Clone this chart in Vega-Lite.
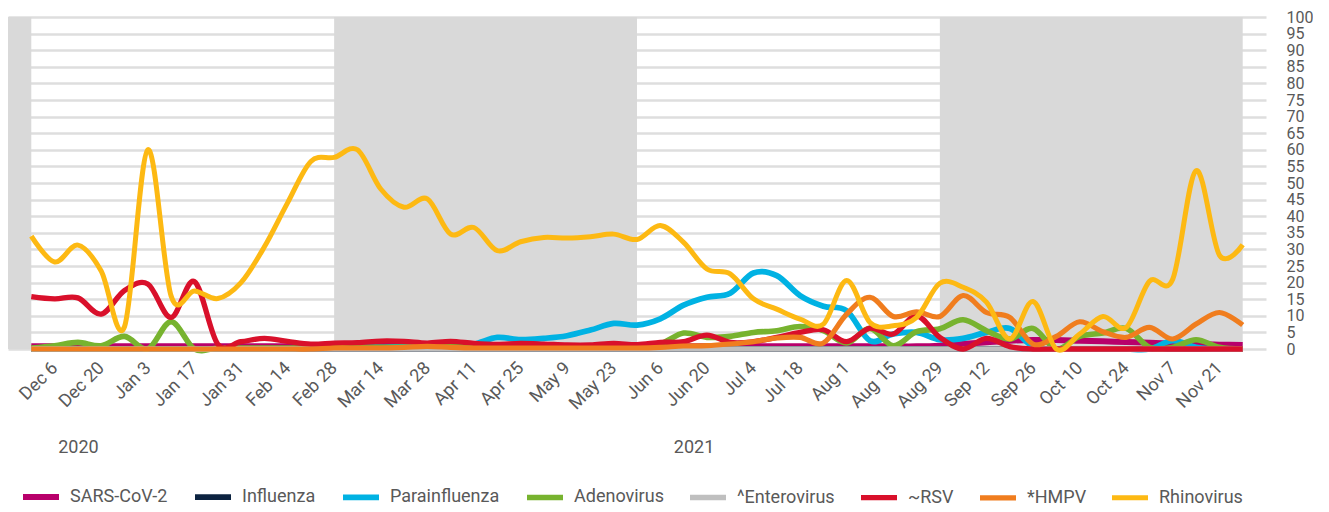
{
  "$schema": "https://vega.github.io/schema/vega-lite/v6.json",
  "width": 1258,
  "height": 332,
  "padding": {"left": 8, "top": 9, "right": 0, "bottom": 0},
  "background": "white",
  "config": {
    "view": {"stroke": null},
    "font": "Roboto",
    "axis": {"labelFont": "Roboto", "labelColor": "#595959", "labelFontSize": 18}
  },
  "datasets": {
    "bands": [
      {"start": "2020-11-22", "end": "2020-11-29"},
      {"start": "2021-02-28", "end": "2021-05-30"},
      {"start": "2021-08-29", "end": "2021-11-28"}
    ],
    "weekly": [
      {"w":"2020-11-29","SARS-CoV-2":0.8,"Influenza":0,"Parainfluenza":0,"Adenovirus":0.3,"^Enterovirus":0,"~RSV":15.8,"*HMPV":0,"Rhinovirus":34},
      {"w":"2020-12-06","SARS-CoV-2":0.8,"Influenza":0,"Parainfluenza":0,"Adenovirus":1.0,"^Enterovirus":0,"~RSV":15.1,"*HMPV":0,"Rhinovirus":26.2},
      {"w":"2020-12-13","SARS-CoV-2":0.8,"Influenza":0,"Parainfluenza":0,"Adenovirus":2.0,"^Enterovirus":0,"~RSV":15.4,"*HMPV":0,"Rhinovirus":31.3},
      {"w":"2020-12-20","SARS-CoV-2":0.8,"Influenza":0,"Parainfluenza":0,"Adenovirus":1.0,"^Enterovirus":0,"~RSV":10.5,"*HMPV":0,"Rhinovirus":23.5},
      {"w":"2020-12-27","SARS-CoV-2":0.8,"Influenza":0,"Parainfluenza":0,"Adenovirus":3.8,"^Enterovirus":0,"~RSV":17.6,"*HMPV":0,"Rhinovirus":6.7},
      {"w":"2021-01-03","SARS-CoV-2":0.8,"Influenza":0,"Parainfluenza":0,"Adenovirus":0,"^Enterovirus":0,"~RSV":19.6,"*HMPV":0,"Rhinovirus":60},
      {"w":"2021-01-10","SARS-CoV-2":0.8,"Influenza":0,"Parainfluenza":0,"Adenovirus":8.2,"^Enterovirus":0,"~RSV":9.5,"*HMPV":0,"Rhinovirus":16},
      {"w":"2021-01-17","SARS-CoV-2":0.8,"Influenza":0,"Parainfluenza":0,"Adenovirus":0,"^Enterovirus":0,"~RSV":20.3,"*HMPV":0,"Rhinovirus":17.5},
      {"w":"2021-01-24","SARS-CoV-2":0.8,"Influenza":0,"Parainfluenza":0,"Adenovirus":0.3,"^Enterovirus":0,"~RSV":1.5,"*HMPV":0,"Rhinovirus":15.2},
      {"w":"2021-01-31","SARS-CoV-2":0.8,"Influenza":0,"Parainfluenza":0,"Adenovirus":0.3,"^Enterovirus":0,"~RSV":2.2,"*HMPV":0,"Rhinovirus":20},
      {"w":"2021-02-07","SARS-CoV-2":0.8,"Influenza":0,"Parainfluenza":0,"Adenovirus":0.3,"^Enterovirus":0,"~RSV":3.2,"*HMPV":0,"Rhinovirus":30.7},
      {"w":"2021-02-14","SARS-CoV-2":0.8,"Influenza":0,"Parainfluenza":0,"Adenovirus":0.3,"^Enterovirus":0,"~RSV":2.3,"*HMPV":0,"Rhinovirus":44},
      {"w":"2021-02-21","SARS-CoV-2":0.8,"Influenza":0,"Parainfluenza":0.3,"Adenovirus":0.3,"^Enterovirus":0,"~RSV":1.5,"*HMPV":0,"Rhinovirus":56.5},
      {"w":"2021-02-28","SARS-CoV-2":1.0,"Influenza":0,"Parainfluenza":0.3,"Adenovirus":0.5,"^Enterovirus":0,"~RSV":1.8,"*HMPV":0.3,"Rhinovirus":57.7},
      {"w":"2021-03-07","SARS-CoV-2":1.0,"Influenza":0,"Parainfluenza":0.5,"Adenovirus":0.5,"^Enterovirus":0,"~RSV":1.9,"*HMPV":0.3,"Rhinovirus":60},
      {"w":"2021-03-14","SARS-CoV-2":1.0,"Influenza":0,"Parainfluenza":0.5,"Adenovirus":0.5,"^Enterovirus":0,"~RSV":2.4,"*HMPV":0.3,"Rhinovirus":48.2},
      {"w":"2021-03-21","SARS-CoV-2":1.0,"Influenza":0,"Parainfluenza":0.8,"Adenovirus":0.5,"^Enterovirus":0,"~RSV":2.3,"*HMPV":0.5,"Rhinovirus":42.7},
      {"w":"2021-03-28","SARS-CoV-2":1.0,"Influenza":0,"Parainfluenza":1.2,"Adenovirus":0.5,"^Enterovirus":0,"~RSV":1.8,"*HMPV":0.8,"Rhinovirus":45.2},
      {"w":"2021-04-04","SARS-CoV-2":1.0,"Influenza":0,"Parainfluenza":1.0,"Adenovirus":0.8,"^Enterovirus":0,"~RSV":2.3,"*HMPV":0.5,"Rhinovirus":34.6},
      {"w":"2021-04-11","SARS-CoV-2":1.0,"Influenza":0,"Parainfluenza":1.5,"Adenovirus":0.5,"^Enterovirus":0,"~RSV":1.7,"*HMPV":0.3,"Rhinovirus":36.6},
      {"w":"2021-04-18","SARS-CoV-2":0.8,"Influenza":0,"Parainfluenza":3.5,"Adenovirus":0.5,"^Enterovirus":0,"~RSV":1.4,"*HMPV":0.3,"Rhinovirus":29.6},
      {"w":"2021-04-25","SARS-CoV-2":0.8,"Influenza":0,"Parainfluenza":2.8,"Adenovirus":0.8,"^Enterovirus":0,"~RSV":1.7,"*HMPV":0.3,"Rhinovirus":32.3},
      {"w":"2021-05-02","SARS-CoV-2":0.8,"Influenza":0,"Parainfluenza":3.2,"Adenovirus":0.8,"^Enterovirus":0,"~RSV":1.5,"*HMPV":0.3,"Rhinovirus":33.6},
      {"w":"2021-05-09","SARS-CoV-2":0.8,"Influenza":0,"Parainfluenza":4.0,"Adenovirus":0.5,"^Enterovirus":0,"~RSV":1.2,"*HMPV":0.3,"Rhinovirus":33.4},
      {"w":"2021-05-16","SARS-CoV-2":0.8,"Influenza":0,"Parainfluenza":5.7,"Adenovirus":0.5,"^Enterovirus":0,"~RSV":1.2,"*HMPV":0.3,"Rhinovirus":33.8},
      {"w":"2021-05-23","SARS-CoV-2":0.8,"Influenza":0,"Parainfluenza":7.7,"Adenovirus":0.8,"^Enterovirus":0,"~RSV":1.7,"*HMPV":0.3,"Rhinovirus":34.6},
      {"w":"2021-05-30","SARS-CoV-2":0.8,"Influenza":0,"Parainfluenza":7.2,"Adenovirus":1.0,"^Enterovirus":0,"~RSV":1.3,"*HMPV":0.3,"Rhinovirus":33.0},
      {"w":"2021-06-06","SARS-CoV-2":0.8,"Influenza":0,"Parainfluenza":9.1,"Adenovirus":1.5,"^Enterovirus":0,"~RSV":2.0,"*HMPV":0.5,"Rhinovirus":37.2},
      {"w":"2021-06-13","SARS-CoV-2":0.8,"Influenza":0,"Parainfluenza":13.2,"Adenovirus":4.8,"^Enterovirus":0,"~RSV":2.2,"*HMPV":0.9,"Rhinovirus":32.1},
      {"w":"2021-06-20","SARS-CoV-2":0.8,"Influenza":0,"Parainfluenza":15.6,"Adenovirus":3.5,"^Enterovirus":0,"~RSV":4.2,"*HMPV":1.0,"Rhinovirus":24.1},
      {"w":"2021-06-27","SARS-CoV-2":0.8,"Influenza":0,"Parainfluenza":16.8,"Adenovirus":3.8,"^Enterovirus":0,"~RSV":2.0,"*HMPV":1.5,"Rhinovirus":22.6},
      {"w":"2021-07-04","SARS-CoV-2":0.8,"Influenza":0,"Parainfluenza":22.9,"Adenovirus":5.0,"^Enterovirus":0,"~RSV":2.2,"*HMPV":2.2,"Rhinovirus":15.1},
      {"w":"2021-07-11","SARS-CoV-2":0.8,"Influenza":0,"Parainfluenza":22.1,"Adenovirus":5.5,"^Enterovirus":0,"~RSV":3.5,"*HMPV":3.3,"Rhinovirus":12.0},
      {"w":"2021-07-18","SARS-CoV-2":0.8,"Influenza":0,"Parainfluenza":16.1,"Adenovirus":6.8,"^Enterovirus":0,"~RSV":5.0,"*HMPV":3.5,"Rhinovirus":9.0},
      {"w":"2021-07-25","SARS-CoV-2":0.8,"Influenza":0,"Parainfluenza":12.9,"Adenovirus":5.5,"^Enterovirus":0,"~RSV":5.8,"*HMPV":1.8,"Rhinovirus":7.5},
      {"w":"2021-08-01","SARS-CoV-2":0.8,"Influenza":0,"Parainfluenza":11.5,"Adenovirus":1.8,"^Enterovirus":0,"~RSV":2.2,"*HMPV":10.5,"Rhinovirus":20.6},
      {"w":"2021-08-08","SARS-CoV-2":0.8,"Influenza":0,"Parainfluenza":2.5,"Adenovirus":6.2,"^Enterovirus":0,"~RSV":6.3,"*HMPV":15.6,"Rhinovirus":8.0},
      {"w":"2021-08-15","SARS-CoV-2":0.8,"Influenza":0,"Parainfluenza":4.5,"Adenovirus":1.0,"^Enterovirus":0,"~RSV":4.5,"*HMPV":9.8,"Rhinovirus":7.0},
      {"w":"2021-08-22","SARS-CoV-2":0.8,"Influenza":0,"Parainfluenza":5.0,"Adenovirus":5.2,"^Enterovirus":0,"~RSV":10.0,"*HMPV":11.2,"Rhinovirus":9.5},
      {"w":"2021-08-29","SARS-CoV-2":1.0,"Influenza":0,"Parainfluenza":2.8,"Adenovirus":6.1,"^Enterovirus":0,"~RSV":3.5,"*HMPV":9.8,"Rhinovirus":19.8},
      {"w":"2021-09-05","SARS-CoV-2":1.5,"Influenza":0,"Parainfluenza":3.2,"Adenovirus":8.8,"^Enterovirus":0,"~RSV":0,"*HMPV":16.1,"Rhinovirus":18.6},
      {"w":"2021-09-12","SARS-CoV-2":2.0,"Influenza":0,"Parainfluenza":5.0,"Adenovirus":5.5,"^Enterovirus":0,"~RSV":3.2,"*HMPV":11.0,"Rhinovirus":14.1},
      {"w":"2021-09-19","SARS-CoV-2":2.5,"Influenza":0,"Parainfluenza":6.2,"Adenovirus":3.0,"^Enterovirus":0,"~RSV":0.7,"*HMPV":9.5,"Rhinovirus":3.0},
      {"w":"2021-09-26","SARS-CoV-2":2.7,"Influenza":0,"Parainfluenza":0.8,"Adenovirus":6.2,"^Enterovirus":0,"~RSV":0,"*HMPV":1.5,"Rhinovirus":14.3},
      {"w":"2021-10-03","SARS-CoV-2":2.7,"Influenza":0,"Parainfluenza":0,"Adenovirus":0,"^Enterovirus":0,"~RSV":0,"*HMPV":3.8,"Rhinovirus":0},
      {"w":"2021-10-10","SARS-CoV-2":2.5,"Influenza":0,"Parainfluenza":0,"Adenovirus":3.8,"^Enterovirus":0,"~RSV":0,"*HMPV":8.2,"Rhinovirus":4.5},
      {"w":"2021-10-17","SARS-CoV-2":2.3,"Influenza":0,"Parainfluenza":0,"Adenovirus":4.8,"^Enterovirus":0,"~RSV":0,"*HMPV":5.2,"Rhinovirus":9.8},
      {"w":"2021-10-24","SARS-CoV-2":2.1,"Influenza":0,"Parainfluenza":0,"Adenovirus":6.2,"^Enterovirus":0,"~RSV":0,"*HMPV":3.5,"Rhinovirus":6.5},
      {"w":"2021-10-31","SARS-CoV-2":1.9,"Influenza":0,"Parainfluenza":0,"Adenovirus":0.5,"^Enterovirus":0,"~RSV":0,"*HMPV":6.5,"Rhinovirus":20.4},
      {"w":"2021-11-07","SARS-CoV-2":1.6,"Influenza":0,"Parainfluenza":2.5,"Adenovirus":0.5,"^Enterovirus":0,"~RSV":0,"*HMPV":3.0,"Rhinovirus":21.1},
      {"w":"2021-11-14","SARS-CoV-2":1.4,"Influenza":0,"Parainfluenza":0.5,"Adenovirus":2.8,"^Enterovirus":0,"~RSV":0,"*HMPV":7.5,"Rhinovirus":53.7},
      {"w":"2021-11-21","SARS-CoV-2":1.3,"Influenza":0,"Parainfluenza":0,"Adenovirus":0.5,"^Enterovirus":0,"~RSV":0,"*HMPV":11.0,"Rhinovirus":28.3},
      {"w":"2021-11-28","SARS-CoV-2":1.2,"Influenza":0,"Parainfluenza":0,"Adenovirus":0,"^Enterovirus":0,"~RSV":0,"*HMPV":7.2,"Rhinovirus":31.4}
    ]
  },
  "resolve": {"axis": {"x": "independent"}},
  "layer": [
    {
      "data": {"name": "bands"},
      "mark": {"type": "rect", "color": "#d9d9d9"},
      "encoding": {
        "x": {
          "field": "start", "type": "temporal",
          "scale": {"type": "utc", "domain": [{"year": 2020, "month": 11, "date": 22, "utc": true}, {"year": 2021, "month": 12, "date": 5, "utc": true}]},
          "axis": {
            "orient": "bottom",
            "title": null,
            "values": [{"year": 2020, "month": 12, "date": 13, "utc": true}, {"year": 2021, "month": 6, "date": 16, "utc": true}],
            "labelExpr": "utcFormat(datum.value, '%Y')",
            "labelAngle": 0,
            "labelAlign": "center",
            "labelBaseline": "top",
            "labelPadding": 4,
            "offset": 85,
            "ticks": false,
            "domain": false,
            "grid": false,
            "labelFontSize": 18
          }
        },
        "x2": {"field": "end"}
      }
    },
    {
      "data": {"name": "weekly"},
      "transform": [
        {"fold": ["SARS-CoV-2", "Influenza", "Parainfluenza", "Adenovirus", "^Enterovirus", "~RSV", "*HMPV", "Rhinovirus"], "as": ["virus", "pct"]}
      ],
      "mark": {"type": "line", "interpolate": "cardinal"},
      "encoding": {
        "x": {
          "field": "w", "type": "temporal",
          "scale": {"type": "utc", "domain": [{"year": 2020, "month": 11, "date": 22, "utc": true}, {"year": 2021, "month": 12, "date": 5, "utc": true}]},
          "axis": {
            "orient": "bottom",
            "title": null,
            "labelExpr": "utcFormat(datum.value, '%b %-d')",
            "values": [
              {"year": 2020, "month": 12, "date": 6, "utc": true},
              {"year": 2020, "month": 12, "date": 20, "utc": true},
              {"year": 2021, "month": 1, "date": 3, "utc": true},
              {"year": 2021, "month": 1, "date": 17, "utc": true},
              {"year": 2021, "month": 1, "date": 31, "utc": true},
              {"year": 2021, "month": 2, "date": 14, "utc": true},
              {"year": 2021, "month": 2, "date": 28, "utc": true},
              {"year": 2021, "month": 3, "date": 14, "utc": true},
              {"year": 2021, "month": 3, "date": 28, "utc": true},
              {"year": 2021, "month": 4, "date": 11, "utc": true},
              {"year": 2021, "month": 4, "date": 25, "utc": true},
              {"year": 2021, "month": 5, "date": 9, "utc": true},
              {"year": 2021, "month": 5, "date": 23, "utc": true},
              {"year": 2021, "month": 6, "date": 6, "utc": true},
              {"year": 2021, "month": 6, "date": 20, "utc": true},
              {"year": 2021, "month": 7, "date": 4, "utc": true},
              {"year": 2021, "month": 7, "date": 18, "utc": true},
              {"year": 2021, "month": 8, "date": 1, "utc": true},
              {"year": 2021, "month": 8, "date": 15, "utc": true},
              {"year": 2021, "month": 8, "date": 29, "utc": true},
              {"year": 2021, "month": 9, "date": 12, "utc": true},
              {"year": 2021, "month": 9, "date": 26, "utc": true},
              {"year": 2021, "month": 10, "date": 10, "utc": true},
              {"year": 2021, "month": 10, "date": 24, "utc": true},
              {"year": 2021, "month": 11, "date": 7, "utc": true},
              {"year": 2021, "month": 11, "date": 21, "utc": true}
            ],
            "labelAngle": -45,
            "labelAlign": "right",
            "labelBaseline": "middle",
            "labelPadding": 16,
            "labelOverlap": false,
            "labelFlush": false,
            "ticks": false,
            "domain": false,
            "grid": false,
            "labelFontSize": 18
          }
        },
        "y": {
          "field": "pct", "type": "quantitative",
          "scale": {"domain": [0, 100], "nice": false},
          "axis": {
            "orient": "right",
            "title": null,
            "values": [0,5,10,15,20,25,30,35,40,45,50,55,60,65,70,75,80,85,90,95,100],
            "labelAlign": "left",
            "labelPadding": 20,
            "labelOverlap": false,
            "labelFlush": false,
            "ticks": false,
            "domain": false,
            "grid": true,
            "gridColor": "#dedede",
            "gridWidth": 2.5,
            "labelFontSize": 16
          }
        },
        "color": {
          "field": "virus", "type": "nominal",
          "scale": {
            "domain": ["SARS-CoV-2", "Influenza", "Parainfluenza", "Adenovirus", "^Enterovirus", "~RSV", "*HMPV", "Rhinovirus"],
            "range": ["#B8006B", "#0C2340", "#00B2E3", "#77B32F", "#BFBFBF", "#D9102B", "#F07D1E", "#FDB913"]
          },
          "legend": {
            "title": null,
            "orient": "bottom",
            "direction": "horizontal",
            "columns": 8,
            "symbolType": "stroke",
            "symbolSize": 1296,
            "labelFont": "Roboto",
            "labelFontSize": 18,
            "labelColor": "#595959",
            "labelOffset": 8,
            "columnPadding": 15,
            "padding": 12,
            "offset": 8,
            "encode": {
              "symbols": {"update": {"strokeWidth": {"signal": "datum.value === 'SARS-CoV-2' ? 6.5 : (datum.value === 'Influenza' ? 6 : 3)"}}}
            }
          }
        },
        "strokeWidth": {
          "field": "virus", "type": "nominal",
          "scale": {
            "domain": ["SARS-CoV-2", "Influenza", "Parainfluenza", "Adenovirus", "^Enterovirus", "~RSV", "*HMPV", "Rhinovirus"],
            "range": [6, 5, 2.6, 2.6, 2.6, 2.6, 2.6, 2.6]
          },
          "legend": null
        }
      }
    }
  ]
}
